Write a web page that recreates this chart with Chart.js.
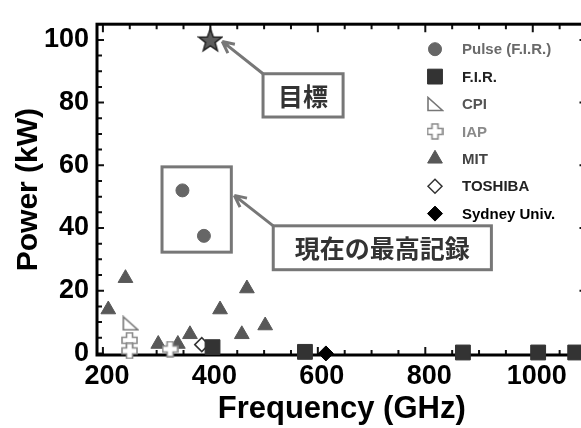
<!DOCTYPE html>
<html>
<head>
<meta charset="utf-8">
<script src="https://cdn.jsdelivr.net/npm/chart.js@4.4.1/dist/chart.umd.min.js"></script>
<style>
  html, body { margin: 0; padding: 0; background: #fff; overflow: hidden; }
  #wrap { width: 600px; height: 428px; }
</style>
</head>
<body>
<div id="wrap"><canvas id="c" width="600" height="428"></canvas></div>
<script>
// values: frequency in GHz, power in kW
const seriesNames = ['Pulse (F.I.R.)', 'F.I.R.', 'CPI', 'IAP', 'MIT', 'TOSHIBA', 'Sydney Univ.'];

const pulseFreq = [348, 388];
const pulsePower = [52, 37.5];

const firFreq = [404, 576, 870, 1010, 1079];
const firPower = [2, 0.5, 0.3, 0.3, 0.3];

const cpiFreq = [251];
const cpiPower = [9.6];

const iapFreq = [249.5, 249.5, 325];
const iapPower = [4.2, 0.8, 1.4];

const mitFreq = [210, 242, 303, 339.5, 362, 418, 458.5, 468, 502];
const mitPower = [14, 24, 3, 3, 6.1, 14, 6.1, 20.7, 8.9];

const toshibaFreq = [384];
const toshibaPower = [2.8];

const sydneyFreq = [615];
const sydneyPower = [0];

const targetFreq = [400];
const targetPower = [100];

const xTickValues = [200, 400, 600, 800, 1000];
const yTickValues = [0, 20, 40, 60, 80, 100];

const pts = (xs, ys) => xs.map((v, i) => ({ x: v, y: ys[i] }));

// marker shapes the library does not have
function starImg() {
  const c = document.createElement('canvas');
  c.width = 26; c.height = 26;
  const g = c.getContext('2d');
  g.beginPath();
  for (let i = 0; i < 10; i++) {
    const r = i % 2 ? 5 : 12;
    const a = -Math.PI / 2 + i * Math.PI / 5;
    g.lineTo(13 + r * Math.cos(a), 14 + r * Math.sin(a));
  }
  g.closePath();
  g.fillStyle = '#5c5c5c';
  g.fill();
  g.strokeStyle = '#222';
  g.lineWidth = 1.5;
  g.stroke();
  return c;
}

function rightTriImg() {
  const c = document.createElement('canvas');
  c.width = 18; c.height = 16;
  const g = c.getContext('2d');
  g.beginPath();
  g.moveTo(2, 1.5);
  g.lineTo(2, 14.5);
  g.lineTo(16.5, 14.5);
  g.closePath();
  g.fillStyle = '#fff';
  g.fill();
  g.strokeStyle = '#777';
  g.lineWidth = 1.6;
  g.stroke();
  return c;
}

function plusImg() {
  const c = document.createElement('canvas');
  c.width = 17; c.height = 17;
  const g = c.getContext('2d');
  const p = [[5.5,1],[11.5,1],[11.5,5.5],[16,5.5],[16,11.5],[11.5,11.5],[11.5,16],[5.5,16],[5.5,11.5],[1,11.5],[1,5.5],[5.5,5.5]];
  g.beginPath();
  p.forEach(([x, y], i) => i ? g.lineTo(x, y) : g.moveTo(x, y));
  g.closePath();
  g.fillStyle = '#fff';
  g.fill();
  g.strokeStyle = '#8a8a8a';
  g.lineWidth = 1.6;
  g.stroke();
  return c;
}

const legendColors = ['#6a6a6a', '#222', '#555', '#8a8a8a', '#444', '#222', '#000'];

// frame with inward ticks on all four sides
const frameTicks = {
  id: 'frameTicks',
  beforeDatasetsDraw(chart) {
    const { ctx, chartArea: a, scales: { x, y } } = chart;
    ctx.save();
    ctx.strokeStyle = '#111';
    ctx.lineWidth = 2;
    ctx.beginPath();
    for (let v = 200; v <= x.max; v += 50) {
      const px = x.getPixelForValue(v);
      const len = v % 200 === 0 ? 8 : 5;
      ctx.moveTo(px, a.bottom); ctx.lineTo(px, a.bottom - len);
      ctx.moveTo(px, a.top); ctx.lineTo(px, a.top + len);
    }
    for (let v = 0; v <= y.max; v += 5) {
      const py = y.getPixelForValue(v);
      const len = v % 20 === 0 ? 7 : 5;
      ctx.moveTo(a.left, py); ctx.lineTo(a.left + len, py);
      ctx.moveTo(a.right, py); ctx.lineTo(a.right - len, py);
    }
    ctx.stroke();
    ctx.lineWidth = 3;
    ctx.strokeStyle = '#000';
    ctx.strokeRect(a.left, a.top, a.right - a.left, a.bottom - a.top);
    ctx.restore();
  }
};

// callout boxes and arrows, placed in data units
const callouts = {
  id: 'callouts',
  afterDatasetsDraw(chart) {
    const { ctx, scales: { x, y } } = chart;
    const X = v => x.getPixelForValue(v), Y = v => y.getPixelForValue(v);
    ctx.save();
    ctx.strokeStyle = '#777';
    ctx.lineWidth = 3;

    // frame round the pulse points
    ctx.strokeRect(X(310), Y(59.5), X(439) - X(310), Y(32.3) - Y(59.5));

    function arrow(x0, y0, x1, y1) {
      const ax = X(x0), ay = Y(y0), bx = X(x1), by = Y(y1);
      ctx.beginPath();
      ctx.moveTo(ax, ay); ctx.lineTo(bx, by);
      const ang = Math.atan2(by - ay, bx - ax);
      for (const s of [-1, 1]) {
        ctx.moveTo(bx, by);
        ctx.lineTo(bx - 13 * Math.cos(ang + s * 0.45), by - 13 * Math.sin(ang + s * 0.45));
      }
      ctx.stroke();
    }
    function box(x0, y0, x1, y1, text) {
      const l = X(x0), t = Y(y0), r = X(x1), b = Y(y1);
      ctx.fillStyle = '#fff';
      ctx.fillRect(l, t, r - l, b - t);
      ctx.strokeRect(l, t, r - l, b - t);
      ctx.fillStyle = '#333';
      ctx.font = 'bold 25px "Noto Sans CJK JP"';
      ctx.textAlign = 'center';
      ctx.textBaseline = 'middle';
      ctx.fillText(text, (l + r) / 2, (t + b) / 2 + 1);
    }
    arrow(498, 89.2, 422, 99.5);
    arrow(517, 40.7, 444.5, 50.4);
    box(498, 89.2, 647, 75.4, '目標');
    box(517, 40.7, 923, 26.7, '現在の最高記録');
    ctx.restore();
  }
};

// legend inside the plot, upper right
const insideLegend = {
  id: 'insideLegend',
  afterDatasetsDraw(chart) {
    const { ctx, chartArea: a } = chart;
    ctx.save();
    ctx.font = 'bold 15px "Liberation Sans", Arial, sans-serif';
    ctx.textBaseline = 'middle';
    ctx.textAlign = 'left';
    seriesNames.forEach((name, i) => {
      const ds = chart.data.datasets[i];
      const mx = a.left + 338, my = a.top + 25 + i * 27.4;
      ctx.fillStyle = ds.backgroundColor;
      ctx.strokeStyle = ds.borderColor;
      ctx.lineWidth = ds.borderWidth;
      Chart.helpers.drawPoint(ctx, {
        pointStyle: ds.pointStyle, rotation: 0,
        radius: ds.pointRadius, borderWidth: ds.borderWidth
      }, mx, my);
      ctx.fillStyle = legendColors[i];
      ctx.fillText(name, a.left + 365, my + 1);
    });
    ctx.restore();
  }
};

const tickFont = { family: '"Liberation Sans", Arial, sans-serif', size: 27, weight: 'bold' };
const titleFont = { family: '"Liberation Sans", Arial, sans-serif', weight: 'bold' };

new Chart(document.getElementById('c'), {
  type: 'scatter',
  data: {
    datasets: [
      { label: seriesNames[0], data: pts(pulseFreq, pulsePower), pointStyle: 'circle', pointRadius: 6.5,
        backgroundColor: '#666', borderColor: '#666', borderWidth: 1 },
      { label: seriesNames[1], data: pts(firFreq, firPower), pointStyle: 'rect', pointRadius: 10.5,
        backgroundColor: '#333', borderColor: '#333', borderWidth: 1 },
      { label: seriesNames[2], data: pts(cpiFreq, cpiPower), pointStyle: rightTriImg(), pointRadius: 8,
        backgroundColor: '#fff', borderColor: '#777', borderWidth: 0 },
      { label: seriesNames[3], data: pts(iapFreq, iapPower), pointStyle: plusImg(), pointRadius: 8,
        backgroundColor: '#fff', borderColor: '#888', borderWidth: 0 },
      { label: seriesNames[4], data: pts(mitFreq, mitPower), pointStyle: 'triangle', pointRadius: 8.5,
        backgroundColor: '#585858', borderColor: '#585858', borderWidth: 1 },
      { label: seriesNames[5], data: pts(toshibaFreq, toshibaPower), pointStyle: 'rectRot', pointRadius: 7,
        backgroundColor: '#fff', borderColor: '#333', borderWidth: 1.5 },
      { label: seriesNames[6], data: pts(sydneyFreq, sydneyPower), pointStyle: 'rectRot', pointRadius: 7.5,
        backgroundColor: '#000', borderColor: '#000', borderWidth: 1 },
      { label: 'target', data: pts(targetFreq, targetPower), pointStyle: starImg(), pointRadius: 12,
        backgroundColor: '#5c5c5c', borderColor: '#222', borderWidth: 0 }
    ].map(d => Object.assign(d, { clip: false, pointHoverRadius: d.pointRadius }))
  },
  options: {
    responsive: false,
    animation: false,
    events: [],
    layout: { padding: { top: 17.5, right: 13.5, left: 0, bottom: 0 } },
    plugins: { legend: { display: false }, tooltip: { enabled: false } },
    scales: {
      x: {
        type: 'linear', min: 189, max: 1100,
        afterBuildTicks: s => { s.ticks = xTickValues.map(v => ({ value: v })); },
        afterFit: s => { s.height = 73; },
        grid: { display: false, drawTicks: false },
        border: { display: false },
        ticks: { font: tickFont, color: '#000', padding: 5, labelOffset: 4, maxRotation: 0, autoSkip: false,
          callback: v => String(v) },
        title: { display: true, text: 'Frequency (GHz)', color: '#000', font: { ...titleFont, size: 31 },
          padding: { top: 0, bottom: 0 } }
      },
      y: {
        min: -0.5, max: 105,
        afterBuildTicks: s => { s.ticks = yTickValues.map(v => ({ value: v })); },
        afterFit: s => { s.width = 97; },
        grid: { display: false, drawTicks: false },
        border: { display: false },
        ticks: { font: tickFont, color: '#000', padding: 8, autoSkip: false, callback: v => String(v) },
        title: { display: true, text: 'Power (kW)', color: '#000', font: { ...titleFont, size: 30 },
          padding: { top: 11, bottom: 0 } }
      }
    }
  },
  plugins: [frameTicks, callouts, insideLegend]
});
</script>
</body>
</html>
